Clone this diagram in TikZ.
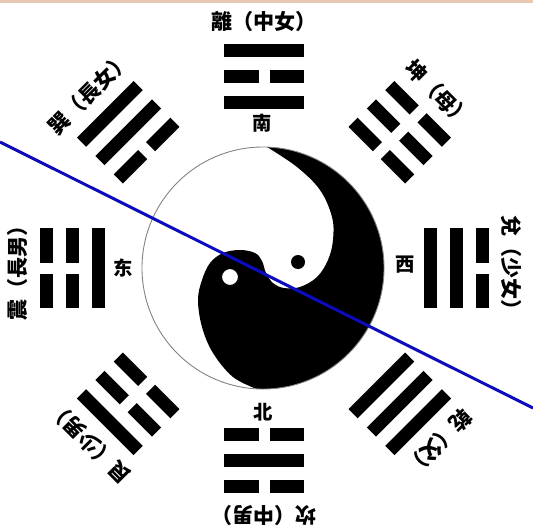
\documentclass[tikz,border=0pt]{standalone}
\usepackage{fontspec}
\newfontfamily\cjk{Noto Sans CJK SC}
\usepackage{xcolor}
\usepackage{tikz}

\definecolor{cutblue}{RGB}{12,12,190}
\definecolor{topband}{RGB}{232,200,178}

\tikzset{
    guaname/.style={font=\cjk\bfseries\fontsize{12}{14}\selectfont, inner sep=0pt},
    dirname/.style={font=\cjk\bfseries\fontsize{11}{13}\selectfont, inner sep=0pt}
}

\begin{document}
\begin{tikzpicture}[x=0.02cm, y=0.02cm]
    \useasboundingbox (0,0) rectangle (533,-531);
    \fill[topband] (0,0) rectangle (533,-2.5);

    % Trigrams: angle / inner, middle, outer line (1 = solid) / name
    \foreach \a/\p/\q/\r/\id/\name in {90/1/0/1/li/離（中女）, 45/0/0/0/kun/坤（母）,
            0/1/1/0/dui/兌（少女）, -45/1/1/1/qian/乾（父）, -90/0/1/0/kan/坎（中男）,
            -135/0/0/1/gen/艮（少男）, 180/1/0/0/zhen/震（長男）, 135/0/1/1/xun/巽（長女）} {
        \begin{scope}[shift={(264,-268)}, rotate=\a-90]
            \foreach \y/\s in {166/\p, 192/\q, 218/\r} {
                \ifnum\s=1
                    \fill (-40,\y-6.5) rectangle (40,\y+6.5);
                \else
                    \fill (-40,\y-6.5) rectangle (-5.5,\y+6.5);
                    \fill (5.5,\y-6.5) rectangle (40,\y+6.5);
                \fi
            }
            \node[guaname, rotate=\a-90] (\id) at (0,247) {\name};
        \end{scope}
    }

    % Directions
    \node[dirname] (nan) at (262,-123) {南};
    \node[dirname] (xi) at (405,-265) {西};
    \node[dirname] (dong) at (123,-268) {东};
    \node[dirname] (bei) at (263,-412) {北};

    % Yin and yang
    \coordinate (taiji) at (263,-268);
    \begin{scope}
        \clip (taiji) circle (121);
        \fill (267,-147) -- (267,-100) -- (450,-100) -- (450,-450) -- (257,-450) --
            plot[smooth, tension=0.6] coordinates {(257,-389) (233,-377) (213,-353) (202,-327)
            (198,-300) (202,-280) (210,-263) (223,-253) (240,-250) (255,-253) (262,-261)
            (266,-273) (273,-283) (284,-288) (300,-287) (317,-277) (328,-260) (333,-240)
            (332,-217) (320,-190) (297,-167) (267,-147)} -- cycle;
    \end{scope}
    \draw[gray, line width=0.5pt] (taiji) circle (121);
    \fill (298,-262) circle (7);
    \draw[fill=white, line width=0.6pt] (230,-277) circle (8.5);

    % Cutting line
    \coordinate (cutW) at (0,-142);
    \coordinate (cutE) at (533,-408);
    \draw[cutblue, line width=1.7pt] (cutW) -- (cutE);
\end{tikzpicture}
\end{document}
